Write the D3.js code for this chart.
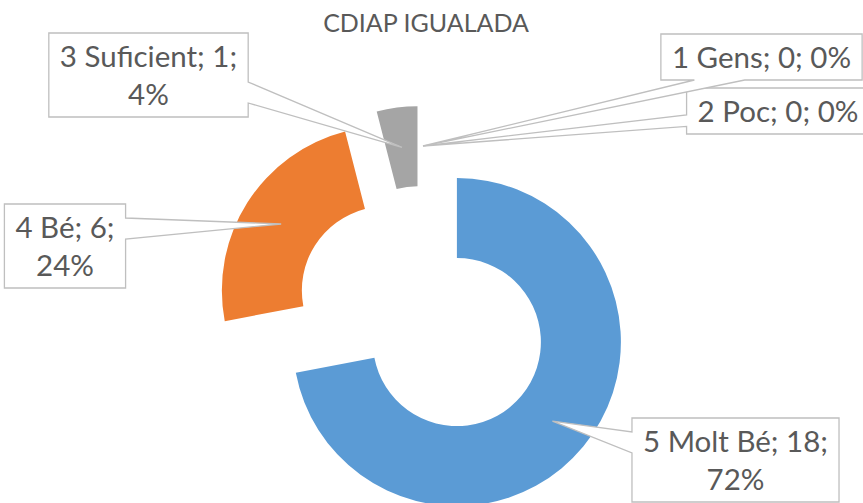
<!DOCTYPE html>
<html>
<head>
<meta charset="utf-8">
<title>CDIAP IGUALADA</title>
<style>
html, body {
  margin: 0;
  padding: 0;
  background: #fff;
}
svg {
  display: block;
  font-family: 'Lato', sans-serif;
}
.title {
  fill: #595959;
  font-size: 25px;
}
.callout {
  fill: #fff;
  stroke: #bfbfbf;
  stroke-width: 1.3px;
}
.label {
  fill: #595959;
  font-size: 29.5px;
}
</style>
<script src="https://d3js.org/d3.v7.min.js"></script>
</head>
<body>
<svg width="863" height="503"></svg>
<script>

// data, in the order Excel draws the slices (clockwise from the top)
var categories = ["5 Molt Bé", "4 Bé", "3 Suficient", "2 Poc", "1 Gens"];
var values = [18, 6, 1, 0, 0];
var colors = ["#5b9bd5", "#ed7d31", "#a5a5a5", "#ffc000", "#4472c4"];

// where the data callouts were dragged to (box centre x, top, lines)
var boxes = [
  {cx: 735.5, top: 418, wrap: true},
  {cx: 65,    top: 204, wrap: true},
  {cx: 148.5, top: 33,  wrap: true},
  {cx: 778,   top: 88,  wrap: false},
  {cx: 761.5, top: 34,  wrap: false}
];

var svg = d3.select("svg"),
    width = +svg.attr("width"),
    height = +svg.attr("height");

var cx = 423, cy = 314,
    outer = 164, inner = 84,
    explode = 44,
    lineH = 38, padX = 11;

svg.append("text")
    .attr("class", "title")
    .attr("x", 426)
    .attr("y", 32)
    .attr("text-anchor", "middle")
    .text("CDIAP IGUALADA");

var total = d3.sum(values);

var pie = d3.pie().sort(null).value(function(d) { return d; });
var arc = d3.arc().innerRadius(inner).outerRadius(outer);

var arcs = pie(values);

function offset(d) {
  var a = (d.startAngle + d.endAngle) / 2;
  return [Math.sin(a) * explode, -Math.cos(a) * explode];
}

var g = svg.append("g").attr("transform", "translate(" + cx + "," + cy + ")");

g.selectAll(".slice")
  .data(arcs)
  .enter().append("path")
    .attr("class", "slice")
    .attr("fill", function(d, i) { return colors[i]; })
    .attr("transform", function(d) { return "translate(" + offset(d) + ")"; })
    .attr("d", arc);

// preset wedgeRectCallout geometry (OOXML)
function callout(l, t, w, h, xp, yp) {
  var r = l + w, b = t + h,
      hc = l + w / 2, vc = t + h / 2,
      dxPos = xp - hc, dyPos = yp - vc,
      dz = Math.abs(dxPos * h) - Math.abs(dyPos * w),
      x1 = l + w * (dxPos > 0 ? 7 : 2) / 12,
      x2 = l + w * (dxPos > 0 ? 10 : 5) / 12,
      y1 = t + h * (dyPos > 0 ? 7 : 2) / 12,
      y2 = t + h * (dyPos > 0 ? 10 : 5) / 12,
      p = d3.path();
  p.moveTo(l, t);
  if (dz <= 0 && dyPos < 0) { p.lineTo(x1, t); p.lineTo(xp, yp); p.lineTo(x2, t); }
  p.lineTo(r, t);
  if (dz > 0 && dxPos > 0) { p.lineTo(r, y1); p.lineTo(xp, yp); p.lineTo(r, y2); }
  p.lineTo(r, b);
  if (dz <= 0 && dyPos > 0) { p.lineTo(x2, b); p.lineTo(xp, yp); p.lineTo(x1, b); }
  p.lineTo(l, b);
  if (dz > 0 && dxPos < 0) { p.lineTo(l, y2); p.lineTo(xp, yp); p.lineTo(l, y1); }
  p.closePath();
  return p.toString();
}

arcs.forEach(function(d, i) {
  var pct = Math.round(d.value / total * 100) + "%",
      head = categories[i] + "; " + d.value + ";",
      lines = boxes[i].wrap ? [head, pct] : [head + " " + pct];

  var lab = svg.append("g");
  var shape = lab.append("path").attr("class", "callout");

  var text = lab.append("text")
      .attr("class", "label")
      .attr("text-anchor", "middle");
  lines.forEach(function(s, k) {
    text.append("tspan")
        .attr("x", boxes[i].cx)
        .attr("y", boxes[i].top + 34 + k * lineH)
        .text(s);
  });

  var w = d3.max(text.selectAll("tspan").nodes(), function(n) { return n.getComputedTextLength(); }) + 2 * padX,
      h = lines.length * lineH + 8,
      c = arc.centroid(d), o = offset(d);

  shape.attr("d", callout(boxes[i].cx - w / 2, boxes[i].top, w, h,
                          cx + c[0] + o[0], cy + c[1] + o[1]));
});

</script>
</body>
</html>
